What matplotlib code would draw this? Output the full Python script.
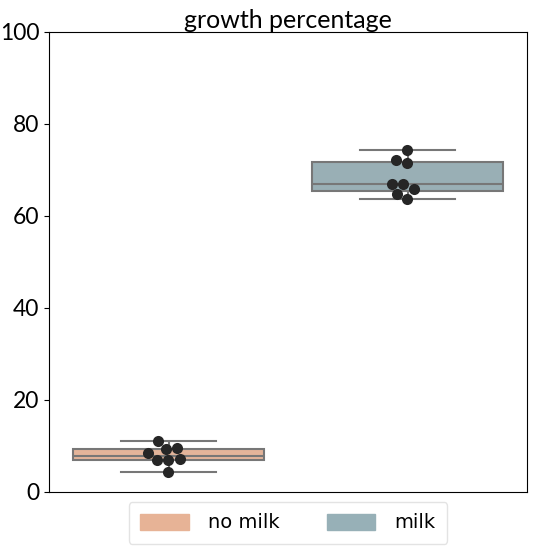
import numpy as np
import pandas as pd
import matplotlib
matplotlib.use("Agg")
import matplotlib.pyplot as plt
import matplotlib.patches as mpatches
import seaborn as sns

groups = ["no milk", "milk"]
no_milk = [11.15, 9.3, 9.6, 8.4, 6.95, 6.95, 7.1, 4.35]
milk = [74.35, 72.2, 71.45, 66.9, 66.85, 65.8, 64.7, 63.75]
colors = ["#e7b396", "#97b0b7"]

df = pd.DataFrame({
    "group": ["no milk"] * len(no_milk) + ["milk"] * len(milk),
    "growth": no_milk + milk,
})

plt.rcParams["font.family"] = ["Lato", "DejaVu Sans"]

fig = plt.figure(figsize=(5.35, 5.51), dpi=100)
ax = fig.add_axes([49 / 535, 59 / 551, 478 / 535, 460 / 551])

sns.boxplot(data=df, x="group", y="growth", order=groups, hue="group",
            palette=colors, width=0.8, linewidth=1.5, fliersize=0,
            linecolor="#777777", saturation=0.9, ax=ax, legend=False)
sns.swarmplot(data=df, x="group", y="growth", order=groups,
              color="#262626", size=8, ax=ax)

ax.set_ylim(0, 100)
ax.set_xlim(-0.5, 1.5)
ax.set_yticks([0, 20, 40, 60, 80, 100])
ax.tick_params(axis="y", labelsize=16.5)
ax.set_xticks([])
ax.set_xlabel("")
ax.set_ylabel("")
ax.set_title("growth percentage", fontsize=18, pad=3)

handles = [mpatches.Patch(color=c, label=g) for c, g in zip(colors, groups)]
ax.legend(handles=handles, ncol=2, loc="upper center",
          bbox_to_anchor=(0.5, 0.0), frameon=True, handlelength=2.5,
          handleheight=0.9, columnspacing=2.4, handletextpad=1.0,
          borderpad=0.6, prop={"family": "DejaVu Sans", "size": 14},
          edgecolor="#dddddd")

fig.savefig("out.png", dpi=100)
